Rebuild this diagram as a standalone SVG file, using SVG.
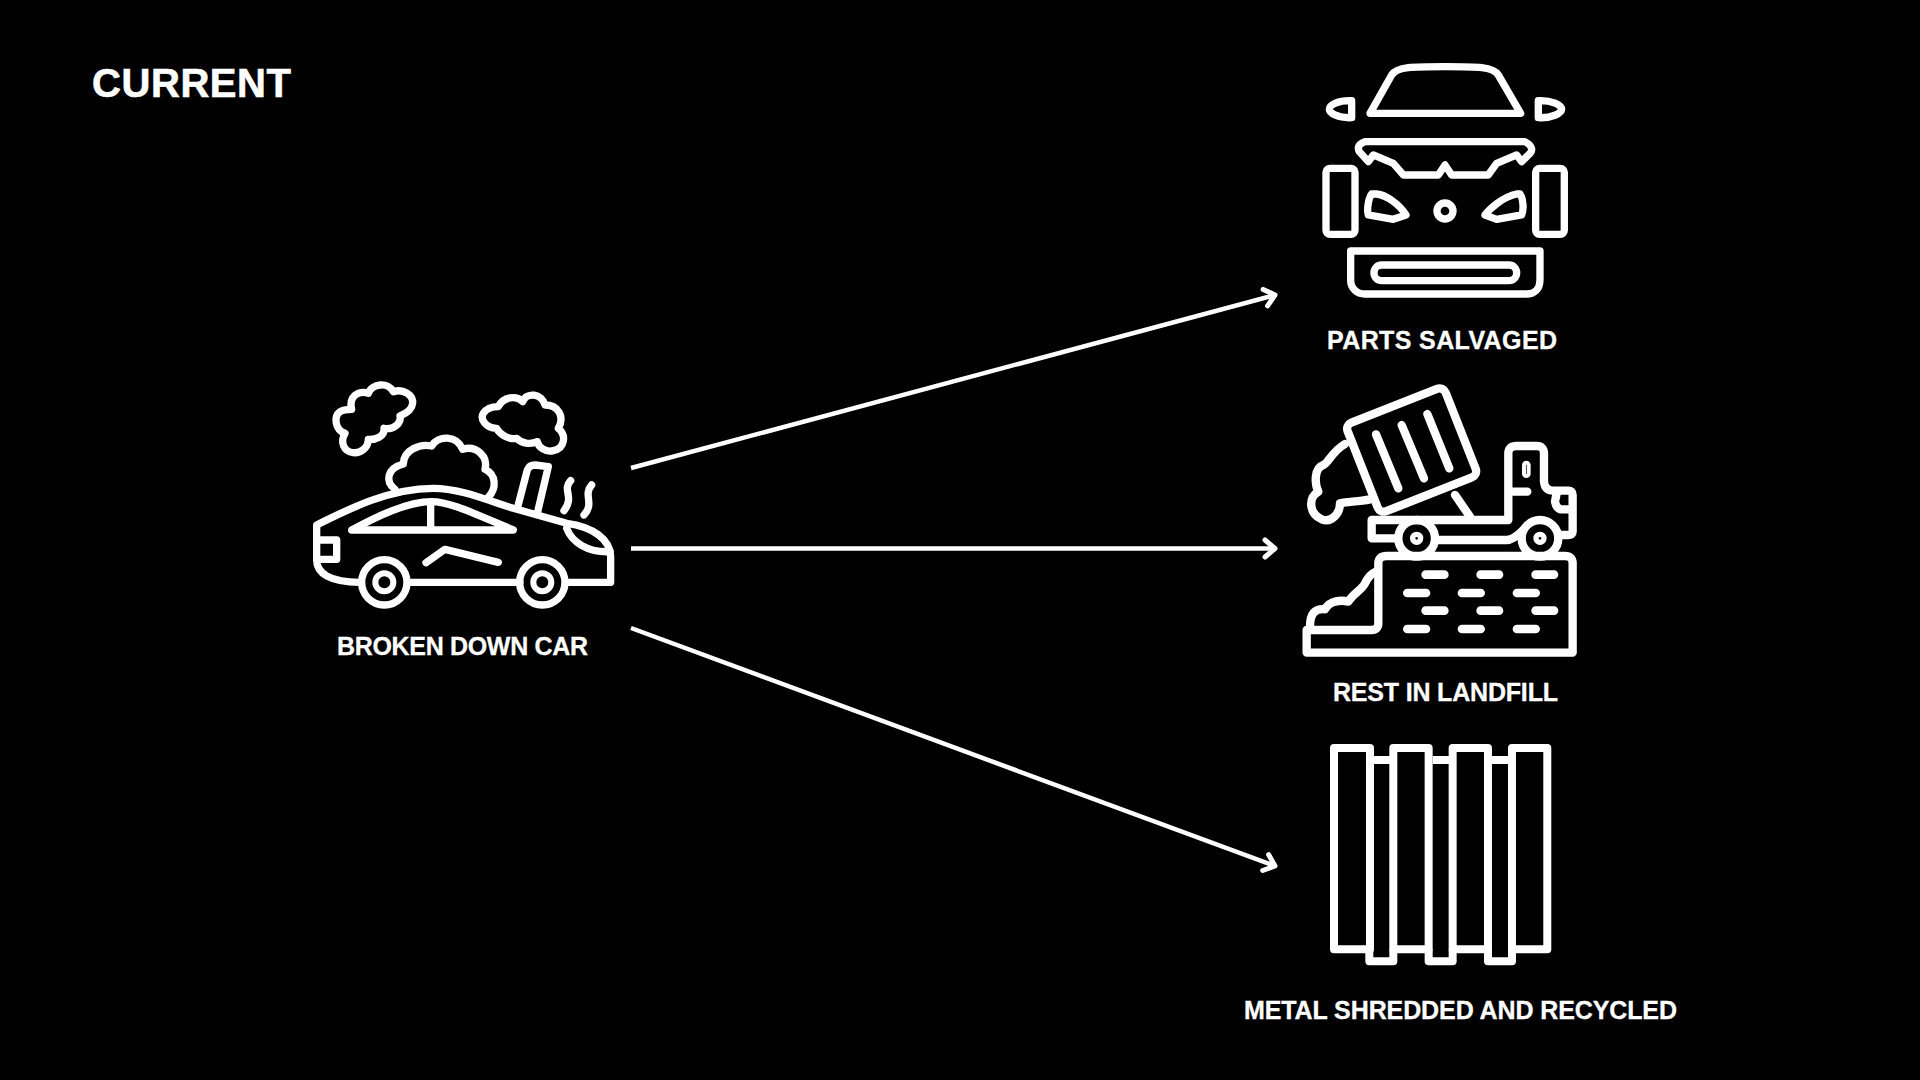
<svg xmlns="http://www.w3.org/2000/svg" width="1920" height="1080" viewBox="0 0 1920 1080">
<style>
.i{fill:none;stroke:#fff;stroke-width:22;stroke-linecap:round;stroke-linejoin:round}
.h{stroke-width:25}
.m{fill:none;stroke:#fff;stroke-width:24;stroke-linejoin:round}
.d{stroke-width:26}
.t{font-family:"Liberation Sans",Arial,sans-serif;font-weight:700;fill:#fff;font-size:25px;stroke:#fff;stroke-width:.3}
.c{fill:none;stroke:#fff;stroke-width:4.5}
</style>
<defs>
<marker id="a" markerUnits="userSpaceOnUse" markerWidth="30" markerHeight="30" refX="20" refY="15" orient="auto" overflow="visible">
<path d="M10 6.500 L20 15 L10 23.500" fill="none" stroke="#fff" stroke-width="5" stroke-linecap="round" stroke-linejoin="round"/>
</marker>
</defs>
<rect width="1920" height="1080" fill="#000"/>
<text class="t" x="92" y="97" textLength="199" style="font-size:40px;stroke-width:.6">CURRENT</text>
<g id="connectors">
<path class="c" d="M631 468 L1275 295" marker-end="url(#a)"/>
<path class="c" d="M631 548.500 L1275 548.500" marker-end="url(#a)"/>
<path class="c" d="M631 628 L1275 866" marker-end="url(#a)"/>
</g>
<g id="broken-car">
<g transform="translate(300 360) scale(.3333)">
<path class="i" d="M155,148 C145,110 175,90 205,100 C215,70 265,65 280,95 C310,85 340,105 338,130 C336,150 320,160 300,168 C305,190 280,210 252,205 C255,230 225,240 205,238 C205,265 180,280 160,278 C130,275 120,245 135,220 C105,210 100,170 120,155 C130,148 145,148 155,148Z"/>
<path class="i" d="M595,140 C610,110 650,105 668,125 C680,95 725,100 735,135 C775,135 795,170 775,205 C800,225 795,265 760,272 C735,278 715,260 712,245 C690,255 665,250 650,235 C630,240 600,225 590,205 C555,205 540,175 550,160 C560,145 580,140 595,140Z"/>
<path class="i" d="M285,388 C255,365 260,325 310,312 C310,270 360,250 395,258 C415,225 470,225 488,268 C530,255 565,290 555,328 C590,345 590,385 565,412"/>
<path class="i" d="M180,667 C90,667 50,640 50,600 L50,495 C150,445 270,385 400,385 C480,385 560,420 640,445 L800,490 C880,500 932,540 932,590 L932,667 L800,667 M660,667 L325,667"/>
<path class="i" d="M52,540 L110,540 L110,598 L52,598 M155,510 C230,470 320,425 395,425 C450,425 520,460 640,510Z M392,425 L392,510 M378,608 L435,568 L595,607 M800,505 C815,545 860,578 930,575 M652,445 L682,330 Q688,315 705,315 L745,320 L712,460 M812,362 C785,390 825,410 792,452 M875,375 C848,405 885,430 852,465"/>
<circle class="i" cx="253" cy="667" r="68"/><circle class="i" cx="253" cy="667" r="27" style="stroke-width:18"/>
<circle class="i" cx="727" cy="667" r="68"/><circle class="i" cx="727" cy="667" r="27" style="stroke-width:18"/>
</g>
<text class="t" x="337" y="655" textLength="251">BROKEN DOWN CAR</text>
</g>
<g id="parts-salvaged">
<g transform="translate(1300 50) scale(.3333)">
<path class="i" d="M210,190 L275,75 C290,50 340,50 435,50 C530,50 580,50 595,75 L662,190Z"/>
<path class="i" d="M155,152 L155,203 C115,205 88,190 88,178 C88,165 115,150 155,152Z M715,152 L715,203 C755,205 785,190 785,178 C785,165 755,150 715,152Z"/>
<path class="i" d="M195,275 L675,275 C695,285 700,300 690,310 L665,335 L650,315 L590,340 L565,375 L455,375 L435,345 L415,375 L310,375 L280,340 L220,315 L205,335 L178,305 C170,290 180,280 195,275Z"/>
<rect class="i" x="78" y="355" width="87" height="198" rx="12"/><rect class="i" x="707" y="355" width="86" height="198" rx="12"/>
<path class="i" d="M215,432 C205,445 200,480 205,495 L280,508 L318,495 C300,465 260,435 230,432Z M660,432 C670,445 672,480 665,495 L590,508 L555,495 C570,475 610,440 650,432Z"/>
<circle class="i" cx="435" cy="483" r="24"/>
<path class="i" d="M152,603 L720,603 L720,690 C720,720 700,732 680,732 L195,732 C170,732 152,715 152,690Z"/>
<rect class="i" x="222" y="645" width="428" height="47" rx="23"/>
</g>
<text class="t" x="1327" y="349" textLength="230">PARTS SALVAGED</text>
</g>
<g id="rest-in-landfill">
<g transform="translate(1290 370) scale(.3333)">
<rect class="i h" x="-158" y="-143" width="316" height="286" rx="20" transform="translate(365 240) rotate(-21.500)"/>
<path class="i h" d="M258,193 L325,355 M335,165 L402,325 M412,132 L478,295"/>
<path class="i h" d="M165,222 C125,245 115,280 100,285 C70,295 75,345 85,365 C55,380 55,430 95,448 C125,460 150,430 150,400 C175,395 205,395 240,388"/>
<path class="i h" d="M495,375 L540,440"/>
<path class="i h" d="M320,505 L245,505 L245,450 L655,450 M440,510 L650,510 C670,510 690,490 700,480 M655,450 L655,250 Q655,228 680,228 L740,228 Q762,228 762,250 L762,335 Q765,362 790,362 L835,362 Q848,362 848,375 L848,485 Q848,495 835,495 L810,495 M660,365 L712,365 M800,370 L795,395 Q800,418 815,418 L848,418"/>
<rect x="702" y="278" width="14" height="40" rx="7" fill="none" stroke="#fff" stroke-width="12"/>
<circle class="i h" cx="380" cy="505" r="55"/><circle class="i" cx="380" cy="505" r="12" style="stroke-width:16"/>
<circle class="i h" cx="750" cy="505" r="55"/><circle class="i" cx="750" cy="505" r="12" style="stroke-width:16"/>
<path class="i h" d="M50,780 L245,780 Q265,780 265,760 L265,580 Q265,558 290,558 L825,558 Q848,558 848,580 L848,848 L50,848Z"/>
<path class="i h" d="M60,770 C60,730 75,715 105,718 C120,690 155,690 175,695 C190,670 215,660 225,640 C235,620 245,610 258,605"/>
<path class="i d" d="M407,614H463M572,614H627M737,614H792M352,669H408M516,669H572M681,669H737M407,722H463M572,722H627M737,722H792M352,777H408M516,777H572M681,777H737"/>
</g>
<text class="t" x="1333" y="701" textLength="225">REST IN LANDFILL</text>
</g>
<g id="metal-shredded">
<g transform="translate(1240 730) scale(.3333)">
<rect class="m" x="282" y="54" width="108" height="604"/><rect class="m" x="460" y="54" width="106" height="604"/><rect class="m" x="638" y="54" width="106" height="604"/><rect class="m" x="816" y="54" width="106" height="604"/>
<path class="m" d="M388,658 V694 H460 V658 M566,658 V694 H638 V658 M744,658 V694 H816 V658 M400,90 H450 M578,90 H628 M756,90 H806"/>
</g>
<text class="t" x="1244" y="1019" textLength="433">METAL SHREDDED AND RECYCLED</text>
</g>
</svg>
